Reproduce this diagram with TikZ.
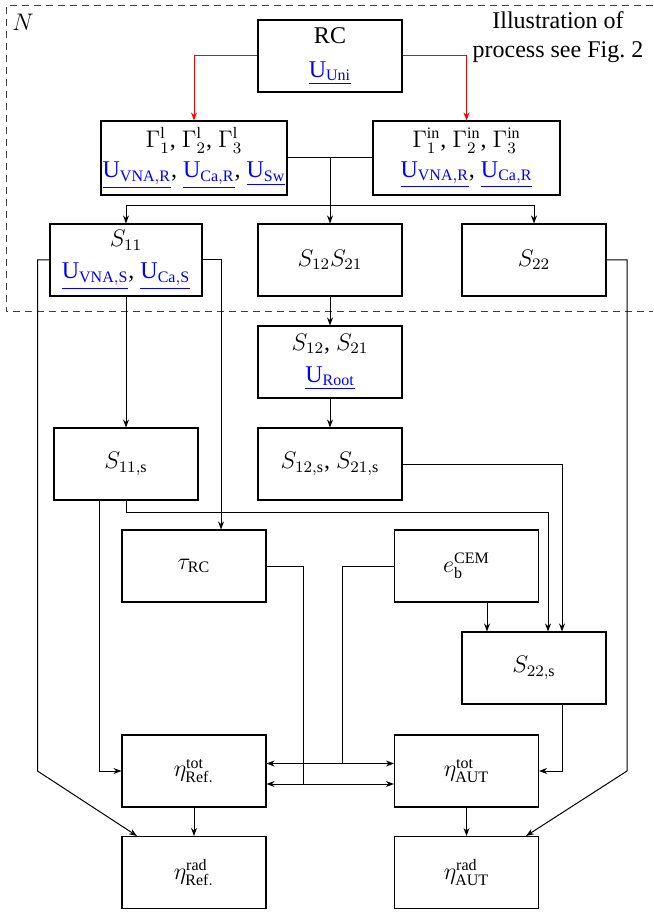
\documentclass[tikz,border=0pt]{standalone}
\usepackage{fontspec}
\setmainfont{Liberation Serif}
\usetikzlibrary{arrows.meta,calc}
\newcommand{\ulk}[1]{\textcolor{blue}{\underline{#1}}}
\begin{document}
\begin{tikzpicture}[x=0.5pt,y=-0.5pt,
  box/.style={draw, line width=0.55pt, minimum width=72pt, minimum height=36pt, align=center, inner sep=0pt, font=\fontsize{12}{15}\selectfont},
  conn/.style={line width=0.5pt, -{Stealth[length=4pt,width=3pt]}},
  plain/.style={line width=0.5pt},
  dbl/.style={line width=0.5pt, {Stealth[length=4pt,width=3pt]}-{Stealth[length=4pt,width=3pt]}},
  frame/.style={line width=0.5pt, dash pattern=on 3.5pt off 2.5pt, black!75}]
\useasboundingbox (0,0) rectangle (653,913);

\draw[frame] (653,6) -- (6,6) -- (6,312) -- (653,312);
\node[font=\fontsize{12}{14}\selectfont] (N) at (23,22) {$N$};
\node[align=center, font=\fontsize{12}{14.5}\selectfont] (ill) at (558,37.5) {Illustration of\\process see Fig.~2};

\node[box] (RC) at (330,56) {RC\\[2pt]\ulk{$\mathrm{U}_{\mathrm{Uni}}$}};
\node[box, minimum width=93pt, minimum height=37pt] (GL) at (194,158)
  {$\Gamma^{\mathrm{l}}_1$, $\Gamma^{\mathrm{l}}_2$, $\Gamma^{\mathrm{l}}_3$\\
   \ulk{$\mathrm{U}_{\mathrm{VNA,R}}$}, \ulk{$\mathrm{U}_{\mathrm{Ca,R}}$}, \ulk{$\mathrm{U}_{\mathrm{Sw}}$}};
\node[box, minimum width=93.5pt, minimum height=37pt] (GI) at (466.5,158)
  {$\Gamma^{\mathrm{in}}_1$, $\Gamma^{\mathrm{in}}_2$, $\Gamma^{\mathrm{in}}_3$\\
   \ulk{$\mathrm{U}_{\mathrm{VNA,R}}$}, \ulk{$\mathrm{U}_{\mathrm{Ca,R}}$}};
\node[box, minimum width=76pt] (S11) at (126,260)
  {$S_{11}$\\[1pt] \ulk{$\mathrm{U}_{\mathrm{VNA,S}}$}, \ulk{$\mathrm{U}_{\mathrm{Ca,S}}$}};
\node[box] (S1221) at (330,260) {$S_{12}S_{21}$};
\node[box] (S22) at (534,260) {$S_{22}$};
\node[box] (S12) at (330,362) {$S_{12}$, $S_{21}$\\[1pt] \ulk{$\mathrm{U}_{\mathrm{Root}}$}};
\node[box] (S11s) at (126,464) {$S_{11,\mathrm{s}}$};
\node[box] (S12s) at (330,464) {$S_{12,\mathrm{s}}$, $S_{21,\mathrm{s}}$};
\node[box] (tau) at (194,566) {$\tau_{\mathrm{RC}}$};
\node[box] (eb) at (466.5,566) {$e_{\mathrm{b}}^{\mathrm{CEM}}$};
\node[box] (S22s) at (534,668) {$S_{22,\mathrm{s}}$};
\node[box] (etaRt) at (194,771) {$\eta^{\mathrm{tot}}_{\mathrm{Ref.}}$};
\node[box] (etaAt) at (466.5,771) {$\eta^{\mathrm{tot}}_{\mathrm{AUT}}$};
\node[box] (etaRr) at (194,872.5) {$\eta^{\mathrm{rad}}_{\mathrm{Ref.}}$};
\node[box] (etaAr) at (466.5,872.5) {$\eta^{\mathrm{rad}}_{\mathrm{AUT}}$};

% red arrows
\draw[conn, red] (RC.west) -| (GL.north);
\draw[conn, red] (RC.east) -| (GI.north);
% Gamma -> S
\draw[plain] (GL.east) -- (GI.west);
\draw[conn] (S1221.north |- GL.east) -- (S1221.north);
\coordinate (hb) at (330,206);
\draw[conn] (hb) -| (S11.north);
\draw[conn] (hb) -| (S22.north);
% long side lines
\coordinate (lt) at (37.5,771);
\coordinate (rt) at (627,771);
\draw[conn] (S11.west) -| (lt) -- ($(etaRr.north west)+(15.5,0)$);
\draw[conn] (S22.east) -| (rt) -- ($(etaAr.north east)+(-13,0)$);
\draw[conn] (S11.east) -| ($(tau.north)+(27,0)$);
% vertical chain
\draw[conn] (S11.south) -- (S11s.north);
\draw[conn] (S1221.south) -- (S12.north);
\draw[conn] (S12.south) -- (S12s.north);
% into S22,s
\draw[conn] (S12s.east) -| ($(S22s.north)+(28,0)$);
\coordinate (mid) at (126,512);
\draw[conn] (S11s.south) -- (mid) -| ($(S22s.north)+(14,0)$);
\draw[conn] ($(eb.south)+(20.5,0)$) -- ($(S22s.north)+(-47,0)$);
% into eta tot
\draw[conn] ($(S11s.south)+(-27,0)$) |- (etaRt.west);
\draw[conn] ($(S22s.south)+(28,0)$) |- (etaAt.east);
% double arrows
\draw[dbl] ($(etaRt.east)+(0,-7.5)$) -- ($(etaAt.west)+(0,-7.5)$);
\draw[dbl] ($(etaRt.east)+(0,13)$) -- ($(etaAt.west)+(0,13)$);
\draw[plain] (tau.east) -| ($(etaRt.east)+(37,13)$);
\draw[plain] (eb.west) -| ($(etaAt.west)+(-51,-7.5)$);
% tot -> rad
\draw[conn] (etaRt.south) -- (etaRr.north);
\draw[conn] (etaAt.south) -- (etaAr.north);
\end{tikzpicture}
\end{document}
